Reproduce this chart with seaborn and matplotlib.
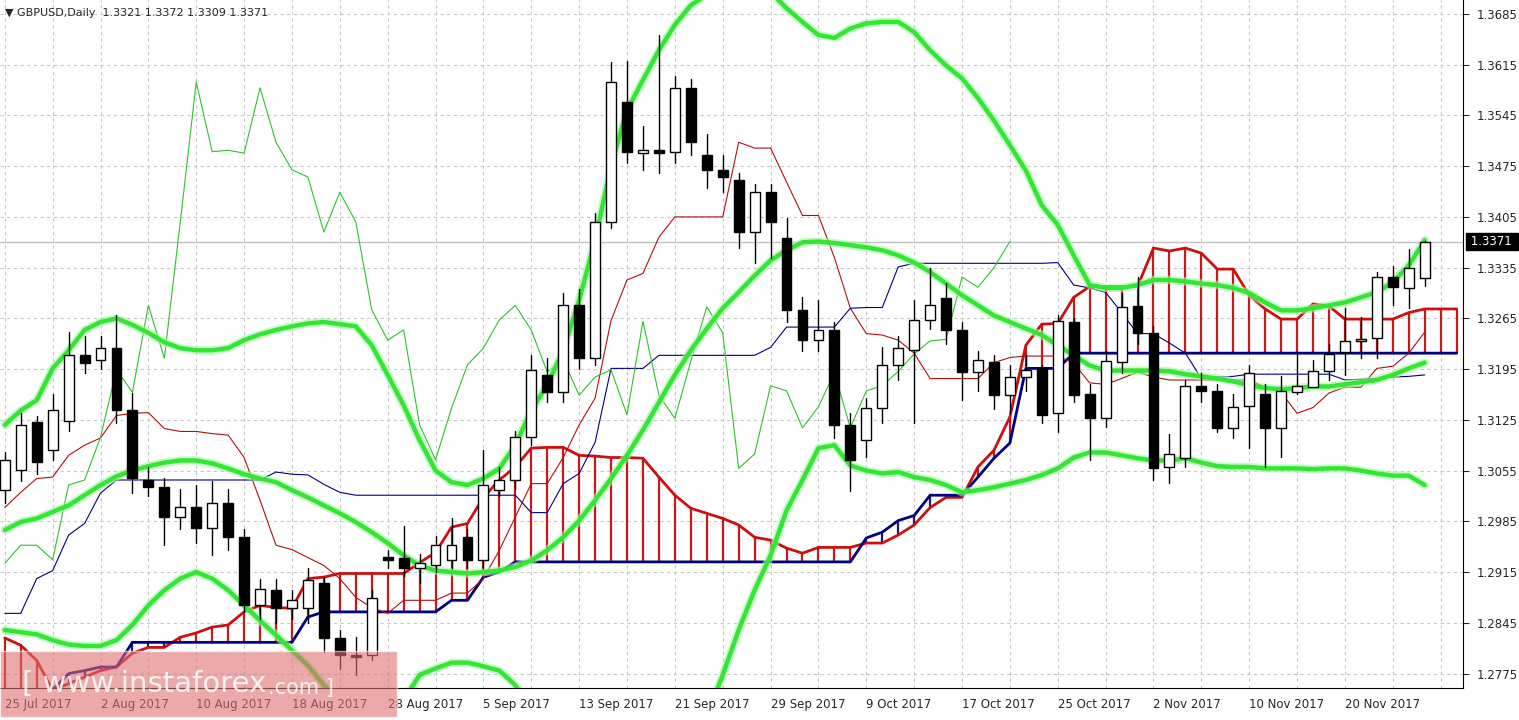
import numpy as np
import pandas as pd
import matplotlib
matplotlib.use("Agg")
import matplotlib.pyplot as plt
import seaborn as sns
from matplotlib.patches import Rectangle

sns.set_style("white")
plt.rcParams['font.family'] = ['DejaVu Sans']

# ---- OHLC data (daily candles) ----
opens = [1.3028,1.3056,1.3122,1.3083,1.3124,1.3215,1.3208,1.3224,1.3138,1.3042,
         1.3032,1.2991,1.3005,1.2976,1.3010,1.2963,1.2869,1.2890,1.2865,1.2865,
         1.2900,1.2824,1.2800,1.2800,1.2936,1.2934,1.2920,1.2925,1.2932,1.2963,
         1.2932,1.3028,1.3042,1.3101,1.3187,1.3163,1.3283,1.3210,1.3398,1.3564,
         1.3493,1.3497,1.3495,1.3583,1.3490,1.3470,1.3456,1.3384,1.3439,1.3376,
         1.3277,1.3235,1.3249,1.3118,1.3097,1.3141,1.3201,1.3221,1.3263,1.3293,
         1.3249,1.3191,1.3205,1.3159,1.3184,1.3196,1.3134,1.3260,1.3161,1.3127,
         1.3205,1.3282,1.3245,1.3060,1.3072,1.3172,1.3165,1.3114,1.3144,1.3161,
         1.3114,1.3163,1.3170,1.3192,1.3219,1.3234,1.3238,1.3322,1.3307,1.3321]
closes = [1.3070,1.3118,1.3067,1.3138,1.3214,1.3203,1.3224,1.3138,1.3045,1.3032,
          1.2991,1.3005,1.2976,1.3010,1.2963,1.2869,1.2891,1.2866,1.2876,1.2904,
          1.2824,1.2800,1.2798,1.2879,1.2932,1.2920,1.2927,1.2952,1.2952,1.2932,
          1.3035,1.3042,1.3101,1.3194,1.3163,1.3283,1.3210,1.3398,1.3591,1.3495,
          1.3497,1.3493,1.3583,1.3508,1.3470,1.3460,1.3384,1.3439,1.3398,1.3277,
          1.3235,1.3249,1.3118,1.3070,1.3141,1.3201,1.3224,1.3263,1.3283,1.3249,
          1.3191,1.3208,1.3159,1.3184,1.3194,1.3132,1.3261,1.3159,1.3127,1.3206,
          1.3281,1.3245,1.3058,1.3078,1.3172,1.3165,1.3114,1.3143,1.3190,1.3114,
          1.3165,1.3172,1.3192,1.3216,1.3234,1.3236,1.3322,1.3308,1.3335,1.3371]
highs = [1.3080,1.3135,1.3130,1.3160,1.3246,1.3240,1.3240,1.3269,1.3162,1.3060,
         1.3045,1.3030,1.3035,1.3040,1.3030,1.2975,1.2905,1.2905,1.2890,1.2920,
         1.2908,1.2835,1.2826,1.2890,1.2945,1.2978,1.2940,1.2965,1.2990,1.2975,
         1.3083,1.3060,1.3110,1.3215,1.3210,1.3300,1.3305,1.3410,1.3619,1.3620,
         1.3530,1.3656,1.3600,1.3595,1.3520,1.3490,1.3465,1.3450,1.3450,1.3403,
         1.3295,1.3290,1.3260,1.3135,1.3155,1.3225,1.3240,1.3291,1.3334,1.3314,
         1.3260,1.3220,1.3215,1.3201,1.3215,1.3200,1.3270,1.3265,1.3175,1.3220,
         1.3300,1.3322,1.3255,1.3105,1.3180,1.3190,1.3175,1.3160,1.3200,1.3175,
         1.3185,1.3219,1.3207,1.3230,1.3280,1.3267,1.3329,1.3337,1.3361,1.3372]
lows = [1.3010,1.3040,1.3050,1.3070,1.3110,1.3190,1.3195,1.3120,1.3024,1.3020,
        1.2952,1.2975,1.2955,1.2938,1.2945,1.2860,1.2850,1.2845,1.2850,1.2845,
        1.2805,1.2781,1.2773,1.2794,1.2920,1.2910,1.2900,1.2915,1.2920,1.2920,
        1.2920,1.3020,1.3030,1.3090,1.3150,1.3150,1.3195,1.3200,1.3390,1.3480,
        1.3470,1.3465,1.3480,1.3490,1.3445,1.3440,1.3362,1.3341,1.3348,1.3260,
        1.3220,1.3220,1.3100,1.3027,1.3074,1.3120,1.3180,1.3120,1.3250,1.3230,
        1.3153,1.3165,1.3140,1.3135,1.3165,1.3120,1.3108,1.3150,1.3070,1.3115,
        1.3190,1.3230,1.3042,1.3038,1.3060,1.3150,1.3108,1.3100,1.3086,1.3060,
        1.3074,1.3160,1.3180,1.3180,1.3187,1.3210,1.3211,1.3283,1.3279,1.3309]

# ---- Bollinger bands ----
bb_upper = [1.3118,1.3138,1.3152,1.3196,1.3221,1.3249,1.3260,1.3265,1.3256,1.3245,
            1.3232,1.3224,1.3221,1.3221,1.3224,1.3235,1.3243,1.3249,1.3254,1.3258,
            1.3260,1.3257,1.3254,1.3228,1.3187,1.3145,1.3097,1.3055,1.3039,1.3035,
            1.3044,1.3058,1.3090,1.3138,1.3173,1.3221,1.3290,1.3373,1.3476,1.3552,
            1.3594,1.3635,1.3670,1.3697,1.3711,1.3725,1.3732,1.3729,1.3715,1.3693,
            1.3674,1.3656,1.3652,1.3665,1.3672,1.3674,1.3674,1.3660,1.3635,1.3614,
            1.3596,1.3569,1.3538,1.3504,1.3469,1.3421,1.3394,1.3352,1.3311,1.3307,
            1.3307,1.3311,1.3318,1.3318,1.3316,1.3313,1.3311,1.3307,1.3300,1.3287,
            1.3276,1.3276,1.3279,1.3283,1.3287,1.3294,1.3301,1.3315,1.3338,1.3373]
bb_middle = [1.2973,1.2984,1.2989,1.2998,1.3007,1.3021,1.3035,1.3047,1.3055,1.3061,
             1.3066,1.3069,1.3069,1.3065,1.3058,1.3050,1.3044,1.3039,1.3028,1.3018,
             1.3007,1.2996,1.2984,1.2970,1.2955,1.2938,1.2924,1.2917,1.2915,1.2913,
             1.2915,1.2917,1.2922,1.2931,1.2945,1.2963,1.2986,1.3014,1.3044,1.3076,
             1.3111,1.3149,1.3187,1.3221,1.3251,1.3279,1.3301,1.3324,1.3345,1.3359,
             1.3370,1.3371,1.3369,1.3366,1.3363,1.3359,1.3352,1.3342,1.3329,1.3313,
             1.3297,1.3283,1.3269,1.3260,1.3251,1.3242,1.3228,1.3214,1.3200,1.3193,
             1.3193,1.3193,1.3193,1.3192,1.3188,1.3185,1.3182,1.3178,1.3173,1.3169,
             1.3167,1.3169,1.3171,1.3171,1.3174,1.3177,1.3180,1.3187,1.3196,1.3204]
bb_lower = [1.2835,1.2832,1.2829,1.2821,1.2815,1.2813,1.2813,1.2821,1.2842,1.2869,
            1.2890,1.2906,1.2915,1.2906,1.2890,1.2869,1.2848,1.2828,1.2807,1.2786,
            1.2759,1.2738,1.2710,1.2683,1.2655,1.2738,1.2773,1.2782,1.2790,1.2790,
            1.2785,1.2779,1.2759,1.2724,1.2683,1.2600,1.2531,1.2490,1.2490,1.2503,
            1.2545,1.2600,1.2600,1.2655,1.2717,1.2773,1.2835,1.2890,1.2938,1.3000,
            1.3042,1.3086,1.3090,1.3062,1.3055,1.3051,1.3053,1.3046,1.3042,1.3035,
            1.3025,1.3028,1.3032,1.3037,1.3042,1.3049,1.3058,1.3073,1.3080,1.3080,
            1.3076,1.3072,1.3069,1.3069,1.3072,1.3066,1.3061,1.3060,1.3060,1.3058,
            1.3058,1.3058,1.3057,1.3058,1.3058,1.3055,1.3051,1.3048,1.3048,1.3035]

# ---- Ichimoku ----
tenkan = [1.3004,1.3025,1.3044,1.3046,1.3076,1.3090,1.3100,1.3131,1.3134,1.3135,
          1.3113,1.3109,1.3109,1.3106,1.3104,1.3073,1.3014,1.2952,1.2946,1.2935,
          1.2924,1.2906,1.2880,1.2866,1.2858,1.2876,1.2876,1.2876,1.2886,1.2886,
          1.2906,1.2945,1.2991,1.3037,1.3037,1.3073,1.3118,1.3155,1.3262,1.3318,
          1.3327,1.3377,1.3405,1.3405,1.3405,1.3405,1.3508,1.3500,1.3500,1.3453,
          1.3407,1.3407,1.3349,1.3279,1.3244,1.3242,1.3235,1.3217,1.3182,1.3182,
          1.3182,1.3182,1.3204,1.3211,1.3213,1.3213,1.3213,1.3203,1.3176,1.3174,
          1.3182,1.3191,1.3184,1.3180,1.3180,1.3180,1.3180,1.3180,1.3180,1.3170,
          1.3163,1.3134,1.3142,1.3162,1.3170,1.3170,1.3196,1.3199,1.3217,1.3246]
kijun = [1.2858,1.2858,1.2906,1.2917,1.2966,1.2982,1.3024,1.3042,1.3042,1.3042,
         1.3042,1.3042,1.3042,1.3042,1.3042,1.3042,1.3042,1.3053,1.3050,1.3049,
         1.3036,1.3025,1.3021,1.3021,1.3021,1.3021,1.3021,1.3021,1.3021,1.3021,
         1.3021,1.3021,1.3021,1.2997,1.2997,1.3037,1.3051,1.3094,1.3196,1.3196,
         1.3196,1.3214,1.3214,1.3214,1.3214,1.3214,1.3214,1.3214,1.3225,1.3253,
         1.3253,1.3253,1.3253,1.3279,1.3280,1.3280,1.3336,1.3341,1.3341,1.3341,
         1.3341,1.3341,1.3341,1.3341,1.3341,1.3341,1.3342,1.3311,1.3307,1.3301,
         1.3273,1.3244,1.3244,1.3231,1.3217,1.3182,1.3184,1.3185,1.3188,1.3188,
         1.3188,1.3188,1.3188,1.3188,1.3180,1.3181,1.3182,1.3184,1.3185,1.3187]
span_a = [1.2824,1.2814,1.2793,1.2752,1.2761,1.2770,1.2779,1.2784,1.2803,1.2811,
          1.2811,1.2825,1.2831,1.2839,1.2842,1.2860,1.2869,1.2866,1.2865,1.2906,
          1.2908,1.2913,1.2913,1.2913,1.2913,1.2913,1.2928,1.2942,1.2977,1.2982,
          1.3018,1.3042,1.3060,1.3086,1.3087,1.3087,1.3076,1.3075,1.3073,1.3073,
          1.3072,1.3046,1.3021,1.3003,1.2996,1.2989,1.2980,1.2963,1.2959,1.2948,
          1.2941,1.2949,1.2949,1.2949,1.2955,1.2955,1.2966,1.2980,1.3004,1.3018,
          1.3018,1.3060,1.3083,1.3129,1.3228,1.3257,1.3258,1.3294,1.3309,1.3309,
          1.3309,1.3309,1.3362,1.3358,1.3362,1.3355,1.3333,1.3333,1.3297,1.3278,
          1.3264,1.3264,1.3285,1.3282,1.3264,1.3264,1.3264,1.3264,1.3273,1.3278,
          1.3278,1.3278]
span_b = [1.2710,1.2710,1.2724,1.2752,1.2775,1.2779,1.2784,1.2784,1.2818,1.2818,
          1.2818,1.2818,1.2818,1.2818,1.2818,1.2818,1.2818,1.2818,1.2818,1.2853,
          1.2860,1.2860,1.2860,1.2860,1.2860,1.2860,1.2860,1.2860,1.2876,1.2876,
          1.2908,1.2915,1.2929,1.2929,1.2929,1.2929,1.2929,1.2929,1.2929,1.2929,
          1.2929,1.2929,1.2929,1.2929,1.2929,1.2929,1.2929,1.2929,1.2929,1.2929,
          1.2929,1.2929,1.2929,1.2929,1.2962,1.2970,1.2986,1.2993,1.3021,1.3021,
          1.3021,1.3046,1.3072,1.3093,1.3196,1.3196,1.3196,1.3217,1.3217,1.3217,
          1.3217,1.3217,1.3217,1.3217,1.3217,1.3217,1.3217,1.3217,1.3217,1.3217,
          1.3217,1.3217,1.3217,1.3217,1.3217,1.3217,1.3217,1.3217,1.3217,1.3217,
          1.3217,1.3217]
chikou_shift = 26

date_labels = ["25 Jul 2017","2 Aug 2017","10 Aug 2017","18 Aug 2017","28 Aug 2017",
               "5 Sep 2017","13 Sep 2017","21 Sep 2017","29 Sep 2017","9 Oct 2017",
               "17 Oct 2017","25 Oct 2017","2 Nov 2017","10 Nov 2017","20 Nov 2017"]
label_every = 6
price_ticks = [1.2775,1.2845,1.2915,1.2985,1.3055,1.3125,1.3195,1.3265,1.3335,
               1.3405,1.3475,1.3545,1.3615,1.3685]
header = "GBPUSD,Daily  1.3321 1.3372 1.3309 1.3371"

n = len(closes)
idx = np.arange(n)
df = pd.DataFrame({"i": idx, "open": opens, "close": closes, "high": highs, "low": lows,
                   "bb_upper": bb_upper, "bb_middle": bb_middle, "bb_lower": bb_lower,
                   "tenkan": tenkan, "kijun": kijun})

fig = plt.figure(figsize=(15.19, 7.2), dpi=100)
ax = fig.add_axes([0.0, 1 - 688/720, 1463/1519, 688/720])
ax.set_xlim(-0.3, 91.4)
ax.set_ylim(1.2755, 1.37043)

# grid
for t in price_ticks:
    ax.axhline(t, color="#c8c8c8", lw=0.8, ls=(0, (3, 3)), zorder=0)
for t in range(0, 92, 3):
    ax.axvline(t, color="#c8c8c8", lw=0.8, ls=(0, (3, 3)), zorder=0)
ax.axhline(closes[-1], color="#c0c0c0", lw=1, zorder=0.5)

# cloud hatching
ci = np.arange(len(span_a))
for i in ci:
    a, b = span_a[i], span_b[i]
    col = "#c81818" if a >= b else "#1a1a80"
    ax.plot([i, i], [a, b], color=col, lw=1.6, zorder=1)
ax.plot(ci, span_a, color="#cc1010", lw=2.0, zorder=1.5)
ax.plot(ci, span_b, color="#000080", lw=2.0, zorder=1.5)

# thin ichimoku lines
sns.lineplot(data=df, x="i", y="tenkan", ax=ax, color="#b01010", lw=0.8, zorder=2)
sns.lineplot(data=df, x="i", y="kijun", ax=ax, color="#000080", lw=0.8, zorder=2)
chik_x = idx[chikou_shift:] - chikou_shift
ax.plot(chik_x, np.array(closes)[chikou_shift:], color="#30c030", lw=0.8, zorder=2)

# bollinger bands
for col in ["bb_upper", "bb_middle", "bb_lower"]:
    sns.lineplot(data=df, x="i", y=col, ax=ax, color="#aaf5aa", lw=6, zorder=2.5, alpha=0.6)
    sns.lineplot(data=df, x="i", y=col, ax=ax, color="#33e633", lw=3.2, zorder=2.6)

# candles
w = 0.62
for i in idx:
    o, c, h, l = opens[i], closes[i], highs[i], lows[i]
    ax.plot([i, i], [l, h], color="black", lw=1, zorder=3)
    bottom, top = min(o, c), max(o, c)
    fc = "white" if c >= o else "black"
    ax.add_patch(Rectangle((i - w/2, bottom), w, max(top - bottom, 0.00008),
                           facecolor=fc, edgecolor="black", lw=1, zorder=3.5))

ax.set_xlabel(""); ax.set_ylabel("")
ax.set_xticks(range(0, 91, 3))
ax.set_xticklabels([date_labels[k // label_every] if k % label_every == 0 and k // label_every < len(date_labels) else ""
                    for k in range(0, 91, 3)], ha="left", fontsize=8.5)
ax.tick_params(axis="x", length=4, pad=3)
ax.yaxis.tick_right()
ax.set_yticks(price_ticks)
ax.set_yticklabels([f"{t:.4f}" for t in price_ticks], fontsize=8.5)
ax.tick_params(axis="y", length=4, pad=6)
for s in ["top", "left"]:
    ax.spines[s].set_visible(False)
ax.spines["right"].set_color("black")
ax.spines["bottom"].set_color("black")

ax.text(1.003, closes[-1], f" {closes[-1]:.4f} ", transform=ax.get_yaxis_transform(),
        va="center", ha="left", fontsize=8.5, color="white",
        bbox=dict(boxstyle="square,pad=0.15", fc="black", ec="black"), zorder=10)

fig.text(5/1519, 1 - 13/720, "\u25BC " + header, fontsize=8, va="center", ha="left")

fig.patches.append(Rectangle((0, 1 - 717/720), 397/1519, 66/720, transform=fig.transFigure,
                             facecolor="#e07070", alpha=0.6, zorder=20))
fig.text(22/1519, 1 - 684/720, "[ www.instaforex", fontsize=21, color="white",
         alpha=0.85, va="center", ha="left", zorder=21)
fig.text(268/1519, 1 - 688/720, ".com ]", fontsize=15, color="white",
         alpha=0.85, va="center", ha="left", zorder=21)

fig.savefig("out.png", dpi=100)
